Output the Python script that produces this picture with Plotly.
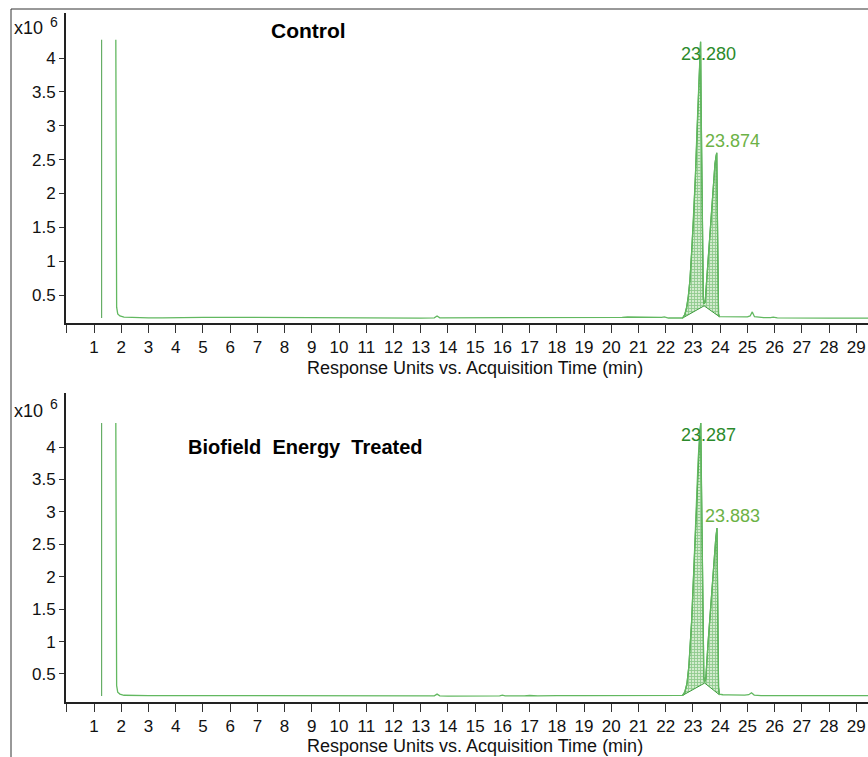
import plotly.graph_objects as go

# ---------------- data (response in units of 10^6) ----------------
# solvent-delay marker lines
ctrl_marker_t = [1.28, 1.28]
ctrl_marker_v = [0.16, 4.27]
trt_marker_t = [1.28, 1.28]
trt_marker_v = [0.16, 4.37]

# Control chromatogram
ctrl_pre_t = [1.80, 1.81, 1.83, 1.87, 1.95, 2.1, 2.5, 3.0, 3.5, 4.0, 5.0, 6.0, 7.0, 7.5, 8.0, 9.0,
              10.0, 11.0, 12.0, 13.0, 13.5, 13.6, 13.7, 14.0, 15.0, 16.0, 17.0, 18.0, 19.0, 20.0,
              20.4, 20.6, 21.0, 21.5, 21.85, 21.95, 22.1, 22.4]
ctrl_pre_v = [4.27, 1.2, 0.32, 0.22, 0.19, 0.172, 0.165, 0.162, 0.163, 0.168, 0.170, 0.170, 0.168,
              0.163, 0.160, 0.158, 0.157, 0.157, 0.157, 0.158, 0.162, 0.19, 0.162, 0.162, 0.165,
              0.167, 0.167, 0.165, 0.163, 0.162, 0.17, 0.175, 0.172, 0.165, 0.17, 0.178, 0.16, 0.16]
ctrl_peak_t = [22.62, 22.70, 22.77, 22.83, 22.89, 22.95, 23.02, 23.09, 23.15, 23.21, 23.25, 23.28,
               23.30, 23.33, 23.36, 23.38, 23.41, 23.45, 23.51, 23.57, 23.63, 23.69, 23.75, 23.81,
               23.85, 23.874, 23.90, 23.92, 23.94, 23.97]
ctrl_peak_v = [0.16, 0.21, 0.32, 0.48, 0.72, 1.10, 1.62, 2.25, 2.95, 3.60, 4.00, 4.24,
               3.30, 2.20, 1.00, 0.45, 0.37, 0.40, 0.75, 1.12, 1.48, 1.85, 2.15, 2.44,
               2.55, 2.60, 1.60, 0.50, 0.22, 0.18]
ctrl_base_t = [22.62, 23.41, 23.97]
ctrl_base_v = [0.16, 0.34, 0.18]
ctrl_post_t = [24.1, 24.3, 24.5, 24.7, 24.85, 25.0, 25.1, 25.18, 25.26, 25.4, 25.6, 25.85, 25.95,
               26.1, 26.5, 27.0, 28.0, 29.0, 29.5]
ctrl_post_v = [0.18, 0.175, 0.178, 0.18, 0.185, 0.178, 0.19, 0.25, 0.18, 0.17, 0.165, 0.165, 0.172,
               0.163, 0.16, 0.158, 0.158, 0.158, 0.158]

# Biofield Energy Treated chromatogram
trt_pre_t = [1.80, 1.81, 1.83, 1.87, 1.95, 2.1, 2.5, 3.0, 4.0, 5.0, 6.0, 7.0, 8.0, 9.0, 9.5, 10.0,
             11.0, 12.0, 12.5, 13.0, 13.5, 13.6, 13.7, 14.0, 15.0, 15.9, 16.0, 16.1, 16.8, 17.0,
             17.3, 17.5, 18.0, 19.0, 20.0, 21.0, 22.0, 22.4]
trt_pre_v = [4.37, 1.2, 0.32, 0.22, 0.19, 0.172, 0.168, 0.167, 0.167, 0.166, 0.166, 0.165, 0.164,
             0.163, 0.160, 0.160, 0.160, 0.160, 0.163, 0.160, 0.163, 0.19, 0.163, 0.160, 0.160,
             0.162, 0.175, 0.162, 0.163, 0.168, 0.163, 0.166, 0.165, 0.165, 0.165, 0.165, 0.165, 0.165]
trt_peak_t = [22.62, 22.70, 22.78, 22.85, 22.95, 23.05, 23.12, 23.19, 23.25, 23.287, 23.31, 23.34,
              23.37, 23.40, 23.43, 23.47, 23.55, 23.63, 23.71, 23.78, 23.84, 23.883, 23.90, 23.92,
              23.94, 23.97]
trt_peak_v = [0.17, 0.22, 0.35, 0.62, 1.30, 2.30, 3.10, 3.80, 4.20, 4.37, 3.40, 2.10,
              0.95, 0.45, 0.38, 0.42, 0.95, 1.45, 1.95, 2.35, 2.60, 2.75, 1.90, 0.90,
              0.30, 0.19]
trt_base_t = [22.62, 23.43, 23.97]
trt_base_v = [0.17, 0.36, 0.18]
trt_post_t = [24.1, 24.3, 24.5, 24.7, 24.9, 25.05, 25.15, 25.25, 25.5, 26.0, 27.0, 28.0, 29.0, 29.5]
trt_post_v = [0.18, 0.178, 0.175, 0.178, 0.175, 0.18, 0.21, 0.175, 0.167, 0.166, 0.166, 0.166,
              0.166, 0.166]

# peak labels
ctrl_peak_labels = ["23.280", "23.874"]
trt_peak_labels = ["23.287", "23.883"]

# axis ticks
x_tickvals = list(range(0, 30))
x_ticktext = [""] + [str(i) for i in range(1, 30)]
y_tickvals = [0.5, 1, 1.5, 2, 2.5, 3, 3.5, 4]
y_ticktext = ["0.5", "1", "1.5", "2", "2.5", "3", "3.5", "4"]

panel_titles = ["Control", "Biofield\u00a0 Energy\u00a0 Treated"]
x_title = "Response Units vs. Acquisition Time (min)"

# ---------------- styling ----------------
W, H = 868, 757
FONT = "Liberation Sans, Arial, sans-serif"
CURVE = "#62b860"
PEAKLINE = "#3a9a3a"
MARKER = "#4a9e4a"
LBL1 = "#2b8a2b"
LBL2 = "#6cb246"


def px(x):
    return x / W


def py(y):
    return 1 - y / H


fig = go.Figure()


def add_panel(xa, ya, mk_t, mk_v, pre_t, pre_v, pk_t, pk_v, bs_t, bs_v, po_t, po_v):
    fig.add_trace(go.Scatter(x=mk_t, y=mk_v, mode="lines", xaxis=xa, yaxis=ya,
                             line=dict(color=MARKER, width=1), hoverinfo="skip", showlegend=False))
    fig.add_trace(go.Scatter(x=bs_t, y=bs_v, mode="lines", xaxis=xa, yaxis=ya,
                             line=dict(color=PEAKLINE, width=1), hoverinfo="skip", showlegend=False))
    fig.add_trace(go.Scatter(x=pk_t, y=pk_v, mode="lines", xaxis=xa, yaxis=ya, fill="tonexty",
                             fillcolor="#cde8c8",
                             fillpattern=dict(shape="+", fgcolor="#4aa84a", bgcolor="#d3ecce",
                                              size=3, solidity=0.5),
                             line=dict(color=PEAKLINE, width=1.2), hoverinfo="skip", showlegend=False))
    fig.add_trace(go.Scatter(x=pre_t + pk_t + po_t, y=pre_v + pk_v + po_v, mode="lines",
                             xaxis=xa, yaxis=ya, line=dict(color=CURVE, width=1.3),
                             hoverinfo="skip", showlegend=False))


add_panel("x", "y", ctrl_marker_t, ctrl_marker_v, ctrl_pre_t, ctrl_pre_v, ctrl_peak_t, ctrl_peak_v,
          ctrl_base_t, ctrl_base_v, ctrl_post_t, ctrl_post_v)
add_panel("x2", "y2", trt_marker_t, trt_marker_v, trt_pre_t, trt_pre_v, trt_peak_t, trt_peak_v,
          trt_base_t, trt_base_v, trt_post_t, trt_post_v)

xax = dict(range=[-0.03, 29.43], domain=[px(66), 1], showgrid=False, zeroline=False,
           showline=True, linewidth=2, linecolor="#222", ticks="outside", ticklen=8, tickwidth=1,
           tickcolor="#333", tickvals=x_tickvals, ticktext=x_ticktext,
           tickfont=dict(family=FONT, size=17, color="#111"), fixedrange=True)
yax = dict(showgrid=False, zeroline=False, showline=True, linewidth=2, linecolor="#222",
           ticks="outside", ticklen=5, tickwidth=1, tickcolor="#333", tickvals=y_tickvals,
           ticktext=y_ticktext, tickfont=dict(family=FONT, size=17, color="#111"), fixedrange=True)

fig.update_layout(
    width=W, height=H, margin=dict(l=0, r=0, t=0, b=0),
    paper_bgcolor="white", plot_bgcolor="white", showlegend=False,
    xaxis=dict(xax, anchor="y"),
    xaxis2=dict(xax, anchor="y2"),
    yaxis=dict(yax, anchor="x", domain=[py(323), py(13)], range=[0.0865, 4.665]),
    yaxis2=dict(yax, anchor="x2", domain=[py(702), py(393)], range=[0.068, 4.833]),
)

ann = []
ann.append(dict(text="<b>%s</b>" % panel_titles[0], x=px(308), y=py(31), xref="paper", yref="paper",
                showarrow=False, xanchor="center", yanchor="middle",
                font=dict(family=FONT, size=21, color="black")))
ann.append(dict(text="<b>%s</b>" % panel_titles[1], x=px(305), y=py(447), xref="paper", yref="paper",
                showarrow=False, xanchor="center", yanchor="middle",
                font=dict(family=FONT, size=20, color="black")))
for ybase, ysup in [(28, 22), (411, 404)]:
    ann.append(dict(text="x10", x=px(12), y=py(ybase), xref="paper", yref="paper", showarrow=False,
                    xanchor="left", yanchor="middle", font=dict(family=FONT, size=18, color="#111")))
    ann.append(dict(text="6", x=px(48), y=py(ysup), xref="paper", yref="paper", showarrow=False,
                    xanchor="left", yanchor="middle", font=dict(family=FONT, size=14, color="#111")))
for yt in [368, 746]:
    ann.append(dict(text=x_title, x=px(475), y=py(yt), xref="paper", yref="paper", showarrow=False,
                    xanchor="center", yanchor="middle", font=dict(family=FONT, size=18, color="#111")))


def peak_label(xr, yr, t, v, txt, color, xs, top):
    return dict(text=txt, x=t, y=v, xref=xr, yref=yr, showarrow=False, xanchor="left",
                yanchor="top" if top else "bottom", xshift=xs, yshift=0,
                font=dict(family=FONT, size=18, color=color))


ann.append(peak_label("x", "y", ctrl_peak_t[11], ctrl_peak_v[11], ctrl_peak_labels[0], LBL1, -22, True))
ann.append(peak_label("x", "y", ctrl_peak_t[25], ctrl_peak_v[25], ctrl_peak_labels[1], LBL2, -14, False))
ann.append(peak_label("x2", "y2", trt_peak_t[9], trt_peak_v[9], trt_peak_labels[0], LBL1, -22, True))
ann.append(peak_label("x2", "y2", trt_peak_t[21], trt_peak_v[21], trt_peak_labels[1], LBL2, -14, False))

fig.update_layout(annotations=ann)

fig.update_layout(shapes=[
    dict(type="line", xref="paper", yref="paper", x0=px(11), x1=px(11), y0=0, y1=py(9),
         line=dict(color="#333", width=1)),
    dict(type="line", xref="paper", yref="paper", x0=px(11), x1=1, y0=py(9), y1=py(9),
         line=dict(color="#333", width=1)),
])

fig.write_html("out.html", config={"displayModeBar": False},
               post_script="document.body.style.margin='0';document.body.style.padding='0';"
                           "document.body.style.overflow='hidden';")
